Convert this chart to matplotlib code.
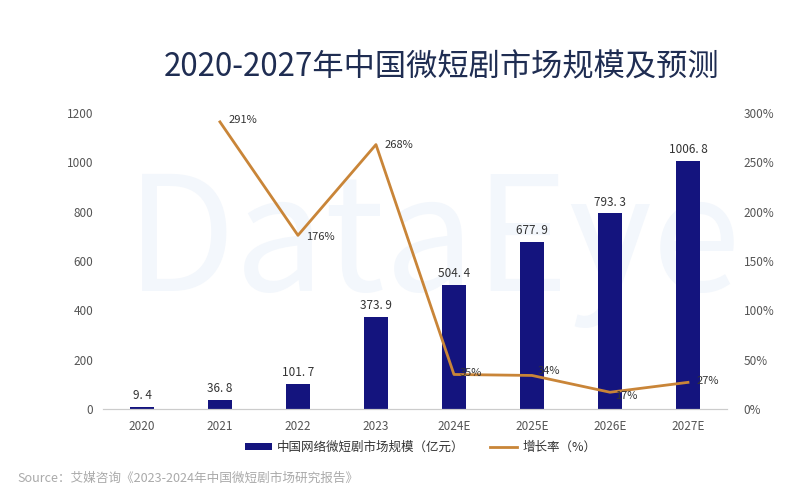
import matplotlib.pyplot as plt
import matplotlib.ticker as ticker
import numpy as np

plt.rcParams['font.family'] = ['Noto Sans CJK SC', 'DejaVu Sans']

anos = ['2020', '2021', '2022', '2023', '2024E', '2025E', '2026E', '2027E']
escala = [9.4, 36.8, 101.7, 373.9, 504.4, 677.9, 793.3, 1006.8]
rotulos_escala = ['9. 4', '36. 8', '101. 7', '373. 9', '504. 4', '677. 9', '793. 3', '1006. 8']
crescimento = [None, 291, 176, 268, 35, 34, 17, 27]

cor_barra = '#14147e'
cor_linha = '#c98538'
cor_texto = '#555555'

fig = plt.figure(figsize=(7.98, 5.0), dpi=100)
ax = fig.add_axes([0.129, 0.182, 0.782, 0.592])
ax2 = ax.twinx()

# marca d'agua bem clarinha atras de tudo
ax.text(0.53, 0.55, 'DataEye', transform=ax.transAxes, fontsize=115, color='#f3f7fc',
        ha='center', va='center', zorder=0)

x = np.arange(len(anos))
ax.bar(x, escala, width=0.3, color=cor_barra, label='中国网络微短剧市场规模（亿元）', zorder=2)
for xi, v, r in zip(x, escala, rotulos_escala):
    ax.text(xi, v + 18, r, ha='center', va='bottom', fontsize=8.5, color='#333333', zorder=3)

ax.set_ylim(0, 1200)
ax.set_xlim(-0.5, 7.5)
ax.yaxis.set_major_locator(ticker.MultipleLocator(200))
ax.set_xticks(x)
ax.set_xticklabels(anos)

xl = [xi for xi, c in zip(x, crescimento) if c is not None]
yl = [c for c in crescimento if c is not None]
ax2.plot(xl, yl, color=cor_linha, linewidth=2, label='增长率（%）', zorder=3)
ax2.set_ylim(0, 300)
ax2.yaxis.set_major_locator(ticker.MultipleLocator(50))
ax2.yaxis.set_major_formatter(ticker.FuncFormatter(lambda v, p: f'{int(v)}%'))

deslocamentos = {1: (6, 1), 2: (6, -1), 3: (6, 0), 4: (4, 1), 5: (4, 3), 6: (4, -3), 7: (6, 1)}
for xi, c in zip(xl, yl):
    dx, dy = deslocamentos[xi]
    ax2.annotate(f'{c}%', (xi, c), xytext=(dx, dy), textcoords='offset points',
                 fontsize=8, color='#333333', va='center', ha='left')

for a in (ax, ax2):
    for s in ('top', 'left', 'right'):
        a.spines[s].set_visible(False)
    a.spines['bottom'].set_color('#cccccc')
    a.tick_params(length=0, labelsize=8.5, colors=cor_texto)
ax.tick_params(axis='x', pad=8)
ax.tick_params(axis='y', pad=7)
ax2.tick_params(axis='y', pad=12)

fig.text(0.553, 0.866, '2020-2027年中国微短剧市场规模及预测', ha='center', va='center',
         fontsize=22.5, fontweight='medium', color='#1f2d52')

h1, l1 = ax.get_legend_handles_labels()
h2, l2 = ax2.get_legend_handles_labels()
fig.legend(h1 + h2, l1 + l2, loc='center', bbox_to_anchor=(0.527, 0.105), ncol=2,
           frameon=False, fontsize=9, handlelength=2.2, handleheight=0.5,
           columnspacing=2.0, handletextpad=0.4, labelcolor='#333333')

fig.text(0.022, 0.043, 'Source：艾媒咨询《2023-2024年中国微短剧市场研究报告》', fontsize=9.1,
         color='#aaaaaa', ha='left', va='center')

fig.savefig('out.png', dpi=100)
